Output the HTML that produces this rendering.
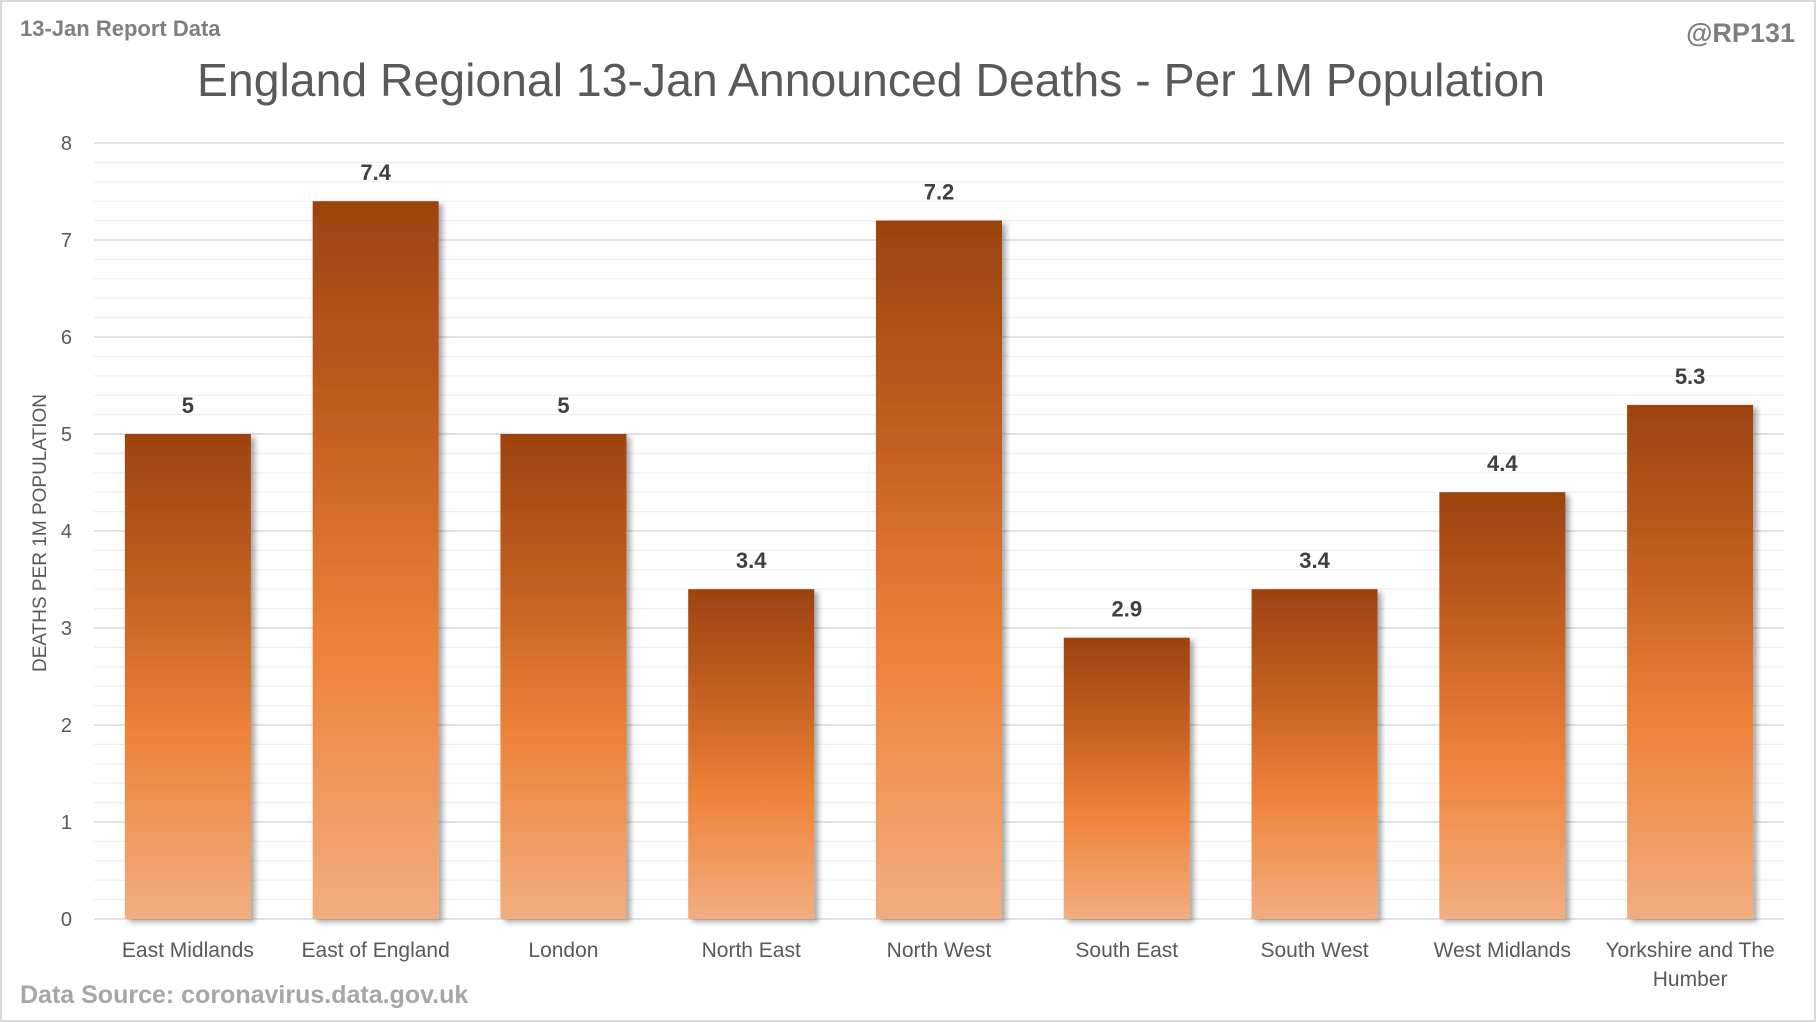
<!DOCTYPE html>
<html><head><meta charset="utf-8"><style>
body{margin:0;background:#fff;}
svg{display:block;font-family:"Liberation Sans",sans-serif;}
</style></head><body>
<svg id="chart" width="1816" height="1022" viewBox="0 0 1816 1022">
<defs>
<linearGradient id="barGrad" x1="0" y1="0" x2="0" y2="1">
<stop offset="0" stop-color="#9C4310"/>
<stop offset="0.3" stop-color="#C25E20"/>
<stop offset="0.62" stop-color="#EE8238"/>
<stop offset="1" stop-color="#F2AE80"/>
</linearGradient>
<filter id="shadow" x="-10%" y="-5%" width="130%" height="115%">
<feGaussianBlur in="SourceAlpha" stdDeviation="3"/>
<feOffset dx="4" dy="3"/>
<feComponentTransfer><feFuncA type="linear" slope="0.35"/></feComponentTransfer>
<feMerge><feMergeNode/><feMergeNode in="SourceGraphic"/></feMerge>
</filter>
</defs>
<rect x="1" y="1" width="1814" height="1020" fill="#fff" stroke="#d9d9d9" stroke-width="2"/>
<text x="20" y="36" font-size="22" font-weight="bold" fill="#7f7f7f">13-Jan Report Data</text>
<text x="1795" y="42" font-size="27" font-weight="bold" fill="#7f7f7f" text-anchor="end">@RP131</text>
<text x="197" y="96" font-size="46" fill="#595959" textLength="1348" lengthAdjust="spacingAndGlyphs">England Regional 13-Jan Announced Deaths - Per 1M Population</text>
<text x="20" y="1003" font-size="25" font-weight="bold" fill="#a6a6a6">Data Source: coronavirus.data.gov.uk</text>
<text transform="translate(46,533) rotate(-90)" font-size="19" fill="#595959" text-anchor="middle">DEATHS PER 1M POPULATION</text>
<g id="grid"></g><g id="bars"></g><g id="labels"></g>
</svg>
<script>
const categories=["East Midlands","East of England","London","North East","North West","South East","South West","West Midlands","Yorkshire and The|Humber"];
const values=[5,7.4,5,3.4,7.2,2.9,3.4,4.4,5.3];
const valueLabels=["5","7.4","5","3.4","7.2","2.9","3.4","4.4","5.3"];
const yTicks=[0,1,2,3,4,5,6,7,8];
const NS="http://www.w3.org/2000/svg";
const left=94,right=1784,y0=919,yTop=143,yMax=8;
const y=v=>y0-(v/yMax)*(y0-yTop);
const band=(right-left)/categories.length;
const x=i=>left+band*(i+0.5);
const barW=126;
function mk(tag,attrs,parent){const e=document.createElementNS(NS,tag);for(const k in attrs)e.setAttribute(k,attrs[k]);parent.appendChild(e);return e;}
const grid=document.getElementById('grid'),bars=document.getElementById('bars'),labels=document.getElementById('labels');
for(let v=0;v<=yMax+1e-9;v+=0.2){
  const major=Math.abs(v-Math.round(v))<1e-6;
  const l=mk('line',{x1:left,x2:right,y1:y(v),y2:y(v),stroke:major?'#d9d9d9':'#efefef','stroke-width':major?1.5:1.2},grid);
  
  
}
yTicks.forEach(t=>{
  const e=mk('text',{x:72,y:y(t)+7,'font-size':20,fill:'#595959','text-anchor':'end'},labels);
  e.textContent=t;
  
  
});
categories.forEach((c,i)=>{
  const r=mk('rect',{x:x(i)-barW/2,y:y(values[i]),width:barW,height:y0-y(values[i]),fill:'url(#barGrad)',filter:'url(#shadow)'},bars);
  
  
  const vl=mk('text',{x:x(i),y:y(values[i])-21,'font-size':22,'font-weight':'bold',fill:'#404040','text-anchor':'middle'},labels);
  vl.textContent=valueLabels[i];
  
  
  c.split('|').forEach((line,j)=>{
    const t=mk('text',{x:x(i),y:957+j*29,'font-size':21,fill:'#595959','text-anchor':'middle'},labels);
    t.textContent=line;
    
    
  });
});
</script>
</body></html>
